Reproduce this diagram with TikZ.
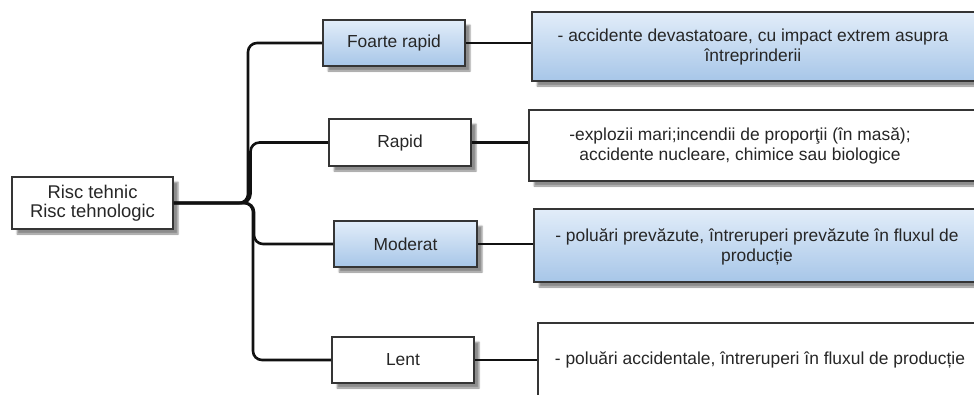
\documentclass[tikz,border=0pt]{standalone}
\usepackage{fontspec}
\setmainfont{Liberation Sans}
\usetikzlibrary{shadows.blur}

\definecolor{boxline}{HTML}{353535}
\definecolor{boxtext}{HTML}{262626}
\definecolor{blueTop}{HTML}{E2EDF9}
\definecolor{blueBot}{HTML}{A7C6E8}
\definecolor{connline}{HTML}{111111}

\tikzset{
  card/.style={draw=boxline, line width=1.8pt, fill=white, inner sep=0pt,
    text=boxtext, align=center,
    blur shadow={shadow xshift=5pt, shadow yshift=-5pt, shadow blur radius=1.5pt, shadow opacity=45}},
  bluecard/.style={card, top color=blueTop, bottom color=blueBot},
  desc/.style={text=boxtext, align=center, inner sep=0pt},
  conn/.style={draw=connline, line width=2.6pt, rounded corners=9pt},
  link/.style={draw=connline, line width=2.4pt}
}

\begin{document}
\begin{tikzpicture}[x=1pt, y=-1pt, font=\fontsize{17.4}{20}\selectfont]
\useasboundingbox (0,0) rectangle (974,394);
\clip (0,0) rectangle (974,394);

% root
\node[card, minimum width=161pt, minimum height=52pt, font=\fontsize{18.4}{19}\selectfont]
  (root) at (92.5,203) {Risc tehnic\\Risc tehnologic};

% speed classes
\node[bluecard, minimum width=142pt, minimum height=46pt] (foarte) at (394,43) {Foarte rapid};
\node[card, minimum width=142pt, minimum height=47pt] (rapid) at (400,142.5) {Rapid};
\node[bluecard, minimum width=143pt, minimum height=46pt] (moderat) at (405.5,244) {Moderat};
\node[card, minimum width=142pt, minimum height=46pt] (lent) at (403,360) {Lent};

% description boxes (they run past the right edge)
\node[bluecard, minimum width=458pt, minimum height=69pt] (d1) at (761,46.5) {};
\node[card, minimum width=461pt, minimum height=71pt] (d2) at (759.5,145.5) {};
\node[bluecard, minimum width=456pt, minimum height=73pt] (d3) at (762,245.5) {};
\node[card, minimum width=452pt, minimum height=107pt] (d4) at (764,376.5) {};

\node[desc] (t1) at (753,47) {- accidente devastatoare, cu impact extrem asupra\\întreprinderii};
\node[desc] (t2) at (740,146) {-explozii mari;incendii de proporţii (în masă);\\accidente nucleare, chimice sau biologice};
\node[desc] (t3) at (757,247) {- poluări prevăzute, întreruperi prevăzute în fluxul de\\producție};
\node[desc] (t4) at (760,360) {- poluări accidentale, întreruperi în fluxul de producție};

% trunk columns of the tree connectors
\coordinate (ka) at (248,0);
\coordinate (kb) at (250.5,0);
\coordinate (kc) at (254,0);
\coordinate (kd) at (253,0);

\draw[conn] (root.east) -| (ka |- foarte.west) -- (foarte.west);
\draw[conn] (root.east) -| (kb |- rapid.west) -- (rapid.west);
\draw[conn] (root.east) -| (kc |- moderat.west) -- (moderat.west);
\draw[conn] (root.east) -| (kd |- lent.west) -- (lent.west);

% links to the descriptions
\draw[link] (foarte.east) -- (foarte.east -| d1.west);
\draw[link] (rapid.east) -- (rapid.east -| d2.west);
\draw[link] (moderat.east) -- (moderat.east -| d3.west);
\draw[link] (lent.east) -- (lent.east -| d4.west);
\end{tikzpicture}
\end{document}
